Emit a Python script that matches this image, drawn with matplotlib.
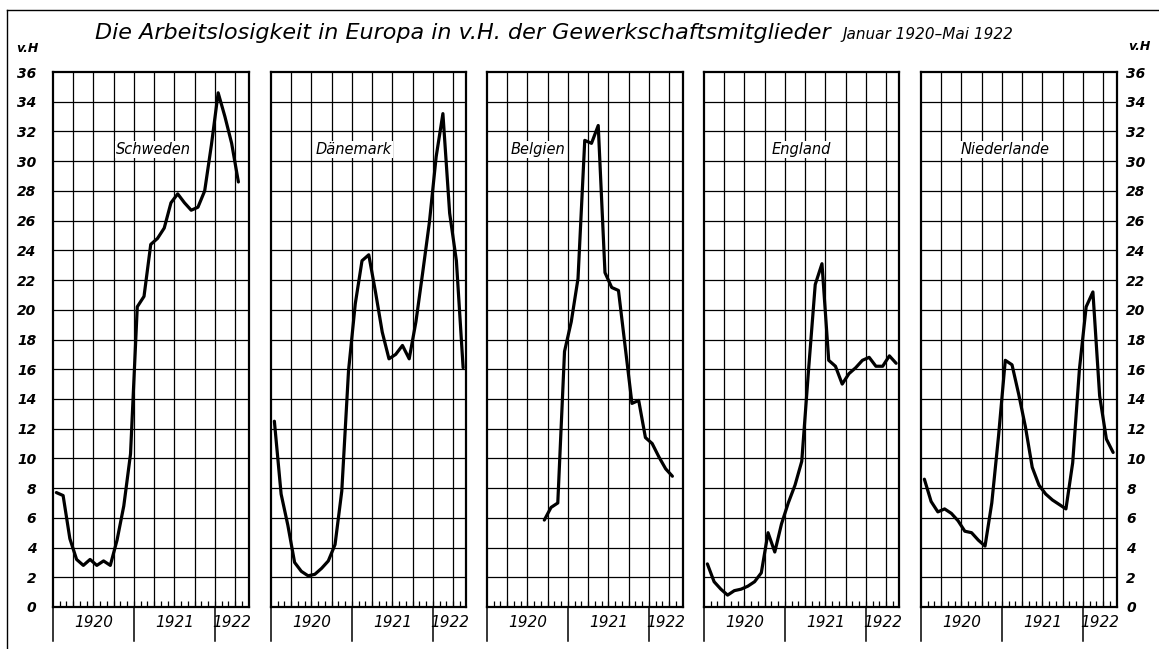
import matplotlib
matplotlib.use('Agg')
import matplotlib.pyplot as plt
import numpy as np
from matplotlib.lines import Line2D

nan = np.nan
# month index 0 = Januar 1920 ... 28 = Mai 1922 (values plotted mid-month)
months = np.arange(29)
countries = ["Schweden", "Dänemark", "Belgien", "England", "Niederlande"]
schweden = [7.7, 7.5, 4.6, 3.2, 2.8, 3.2, 2.8, 3.1, 2.8, 4.5, 6.8, 10.3, 20.2, 20.9,
            24.4, 24.8, 25.5, 27.2, 27.8, 27.2, 26.7, 26.9, 28.0, 31.1, 34.6, 33.0,
            31.2, 28.6, nan]
daenemark = [12.5, 7.6, 5.5, 3.0, 2.4, 2.1, 2.2, 2.6, 3.1, 4.2, 7.8, 15.9, 20.4, 23.3,
             23.7, 21.2, 18.5, 16.7, 17.0, 17.6, 16.7, 19.2, 22.5, 25.9, 30.3, 33.2,
             26.5, 23.3, 16.1]
belgien = [nan, nan, nan, nan, nan, nan, nan, nan, 5.85, 6.7, 7.0, 17.2, 19.2, 22.1,
           31.4, 31.2, 32.4, 22.5, 21.5, 21.3, 17.5, 13.7, 13.9, 11.4, 11.0, 10.1,
           9.3, 8.8, nan]
england = [2.9, 1.7, 1.2, 0.8, 1.1, 1.2, 1.4, 1.7, 2.3, 5.0, 3.7, 5.6, 7.0, 8.2, 9.8,
           15.9, 21.7, 23.1, 16.6, 16.2, 15.0, 15.7, 16.1, 16.6, 16.8, 16.2, 16.2,
           16.9, 16.4]
niederlande = [8.6, 7.1, 6.4, 6.6, 6.3, 5.8, 5.1, 5.0, 4.5, 4.1, 7.0, 11.5, 16.6, 16.3,
               14.3, 12.1, 9.4, 8.2, 7.6, 7.2, 6.9, 6.6, 9.7, 16.0, 20.2, 21.2, 14.2,
               11.3, 10.4]
series = [schweden, daenemark, belgien, england, niederlande]
year_labels = ["1920", "1921", "1922"]
y_ticks = list(range(0, 37, 2))

title = "Die Arbeitslosigkeit in Europa in v.H. der Gewerkschaftsmitglieder"
subtitle = "Januar 1920–Mai 1922"

# layout
W, H = 1159, 649
lefts = [53, 271, 487, 704, 921]
pw = 195.5
ytop, ybot = 72, 607
label_x = [14.9, 12.3, 7.5, 14.5, 12.5]
year_x = [6, 18, 26.5]

fig = plt.figure(figsize=(W / 100, H / 100), dpi=100)
fig.patch.set_facecolor('white')

for i, (name, vals) in enumerate(zip(countries, series)):
    ax = fig.add_axes([lefts[i] / W, (H - ybot) / H, pw / W, (ybot - ytop) / H])
    ax.set_xlim(0, 29)
    ax.set_ylim(0, 36)
    for y in range(2, 36, 2):
        ax.axhline(y, color='black', lw=0.9, zorder=1)
    for x in range(3, 29, 3):
        ax.axvline(x, color='black', lw=0.9, zorder=1)
    for s in ax.spines.values():
        s.set_linewidth(1.6)
    ax.set_xticks([])
    ax.set_xticks(np.arange(1, 29), minor=True)
    ax.tick_params(axis='x', which='minor', direction='in', length=4, width=0.9,
                   bottom=True, top=False)
    ax.set_yticks(y_ticks)
    ax.tick_params(axis='y', length=0, labelleft=(i == 0), labelright=(i == 4),
                   pad=12 if i == 0 else 7)
    ax.set_yticklabels([str(t) for t in y_ticks])
    for lab in ax.get_yticklabels():
        lab.set_fontstyle('italic')
        lab.set_fontweight('bold')
        lab.set_fontsize(10)
    ax.plot(months + 0.5, vals, color='black', lw=2.3, solid_joinstyle='round',
            solid_capstyle='round', zorder=3)
    ax.text(label_x[i], 30.8, name, ha='center', va='center', style='italic',
            fontsize=10.5, zorder=2,
            bbox=dict(facecolor='white', edgecolor='none', pad=0.5))
    for x in [0, 12, 24]:
        ax.plot([x, x], [0, -2.3], color='black', lw=1.1, clip_on=False)
    for yl, xx in zip(year_labels, year_x):
        ax.text(xx, -1.05, yl, ha='center', va='center', style='italic', fontsize=11)

fig.text(463 / W, 1 - 33 / H, title, ha='center', va='center', style='italic',
         fontsize=16)
fig.text(843 / W, 1 - 35 / H, subtitle, ha='left', va='center', style='italic',
         fontsize=11)
fig.text(27 / W, 1 - 48 / H, "v.H", ha='center', va='center', style='italic',
         fontweight='bold', fontsize=9)
fig.text(1139 / W, 1 - 47 / H, "v.H", ha='center', va='center', style='italic',
         fontweight='bold', fontsize=9)

fig.add_artist(Line2D([7 / W, 1], [1 - 10 / H, 1 - 10 / H], transform=fig.transFigure,
                      color='black', lw=1.0))
fig.add_artist(Line2D([7 / W, 7 / W], [0, 1 - 10 / H], transform=fig.transFigure,
                      color='black', lw=1.0))

fig.savefig('out.png', dpi=100, facecolor='white')
